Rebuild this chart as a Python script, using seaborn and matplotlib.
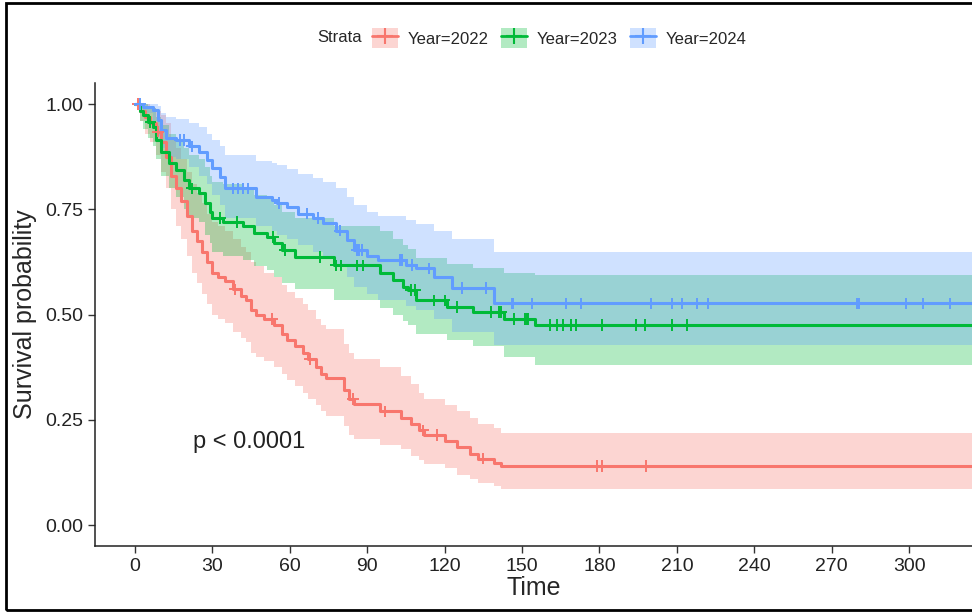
import numpy as np
import pandas as pd
import matplotlib
matplotlib.use("Agg")
import matplotlib.pyplot as plt
import seaborn as sns
from matplotlib.patches import Patch, Rectangle
from matplotlib.lines import Line2D

# ---- data (Kaplan-Meier steps + 95% band) ----
strata = ["Year=2022", "Year=2023", "Year=2024"]
colors = ["#F8766D", "#00BA38", "#619CFF"]
END_TIME = 330

# Year=2022
t_2022 = [0, 2, 4, 6, 8, 10, 12, 14, 16, 18, 20, 22, 24, 26, 28, 30, 32, 35, 38, 41,
          43, 45, 47, 50, 54, 57, 59, 62, 65, 67, 70, 72, 74, 81, 83, 85, 95, 103, 107,
          110, 112, 120, 125, 130, 133, 139, 142]
s_2022 = [1.000, 0.985, 0.970, 0.955, 0.935, 0.910, 0.875, 0.830, 0.800, 0.770, 0.735,
          0.700, 0.675, 0.650, 0.625, 0.600, 0.590, 0.580, 0.560, 0.545, 0.535, 0.510,
          0.500, 0.490, 0.475, 0.455, 0.440, 0.425, 0.410, 0.395, 0.375, 0.360, 0.350,
          0.320, 0.300, 0.287, 0.270, 0.255, 0.240, 0.225, 0.214, 0.200, 0.185, 0.170,
          0.158, 0.147, 0.140]
lo_2022 = [1.00, 0.96, 0.93, 0.91, 0.88, 0.84, 0.80, 0.75, 0.71, 0.68, 0.64, 0.60, 0.575,
           0.55, 0.525, 0.50, 0.49, 0.48, 0.46, 0.445, 0.435, 0.41, 0.40, 0.39, 0.375,
           0.36, 0.345, 0.33, 0.315, 0.30, 0.285, 0.27, 0.26, 0.235, 0.215, 0.205, 0.19,
           0.18, 0.165, 0.155, 0.145, 0.135, 0.12, 0.11, 0.10, 0.092, 0.085]
hi_2022 = [1.00, 1.00, 1.00, 0.99, 0.985, 0.975, 0.955, 0.92, 0.895, 0.87, 0.84, 0.81,
           0.79, 0.765, 0.74, 0.72, 0.71, 0.70, 0.68, 0.66, 0.65, 0.625, 0.615, 0.60,
           0.59, 0.57, 0.555, 0.54, 0.525, 0.51, 0.49, 0.475, 0.465, 0.43, 0.41, 0.395,
           0.375, 0.355, 0.335, 0.315, 0.30, 0.285, 0.27, 0.255, 0.24, 0.23, 0.22]
cens_2022 = [1, 9, 38.8, 53, 67.8, 84.6, 96.9, 111.8, 116.9, 135, 179, 181, 198]

# Year=2023
t_2023 = [0, 2, 3, 5, 7, 8, 10, 13, 16, 19, 21, 25, 27, 29, 30, 34, 42, 46, 51, 54, 57,
          62, 77, 95, 100, 104, 106, 109, 121, 131, 143, 155]
s_2023 = [1.000, 0.985, 0.974, 0.958, 0.945, 0.915, 0.886, 0.860, 0.843, 0.820, 0.800,
          0.790, 0.765, 0.745, 0.730, 0.720, 0.710, 0.695, 0.685, 0.670, 0.653, 0.637,
          0.617, 0.600, 0.582, 0.565, 0.558, 0.534, 0.518, 0.506, 0.490, 0.475]
lo_2023 = [1.00, 0.96, 0.94, 0.92, 0.90, 0.87, 0.83, 0.80, 0.78, 0.75, 0.73, 0.72, 0.69,
           0.67, 0.65, 0.64, 0.63, 0.615, 0.605, 0.59, 0.575, 0.56, 0.535, 0.515, 0.50,
           0.485, 0.475, 0.455, 0.44, 0.425, 0.40, 0.38]
hi_2023 = [1.00, 1.00, 1.00, 0.995, 0.99, 0.97, 0.95, 0.93, 0.915, 0.895, 0.88, 0.87,
           0.85, 0.83, 0.815, 0.81, 0.80, 0.785, 0.775, 0.76, 0.745, 0.73, 0.71, 0.70,
           0.68, 0.665, 0.655, 0.635, 0.62, 0.61, 0.60, 0.594]
cens_2023 = [6, 22, 33, 39.5, 53.5, 58, 71.7, 78, 80, 86, 88.5, 107, 108.5, 116, 120, 125,
             138, 141, 142, 147, 151, 152, 152.5, 161, 163.5, 166, 169, 171, 181, 194,
             197.7, 208, 214]

# Year=2024
t_2024 = [0, 3, 7, 9, 10, 12, 16, 21, 25, 28, 30, 33, 35, 47, 53, 55, 59, 63, 69, 73, 78,
          82, 85, 90, 94, 105, 109, 116, 123, 139]
s_2024 = [1.000, 0.993, 0.986, 0.962, 0.938, 0.920, 0.915, 0.900, 0.886, 0.867, 0.848,
          0.827, 0.800, 0.780, 0.772, 0.765, 0.755, 0.740, 0.730, 0.717, 0.700, 0.677,
          0.653, 0.640, 0.630, 0.618, 0.610, 0.590, 0.563, 0.527]
lo_2024 = [1.00, 0.98, 0.96, 0.925, 0.895, 0.875, 0.87, 0.85, 0.83, 0.81, 0.785, 0.76,
           0.73, 0.71, 0.70, 0.69, 0.68, 0.665, 0.65, 0.635, 0.615, 0.59, 0.565, 0.55,
           0.535, 0.52, 0.51, 0.49, 0.46, 0.428]
hi_2024 = [1.00, 1.00, 1.00, 0.995, 0.98, 0.97, 0.965, 0.955, 0.945, 0.93, 0.915, 0.90,
           0.88, 0.865, 0.86, 0.855, 0.845, 0.835, 0.825, 0.815, 0.80, 0.78, 0.76, 0.745,
           0.735, 0.725, 0.715, 0.70, 0.68, 0.648]
cens_2024 = [2, 17.5, 19, 22, 38, 40, 42, 44, 56, 66.7, 71, 79.5, 86, 87, 88, 102.7, 103.5,
             107.4, 114, 126.7, 136, 146, 146.5, 154, 167, 173, 200, 208, 212, 218, 222,
             280, 280.6, 299, 305.5, 316]

x_ticks = [0, 30, 60, 90, 120, 150, 180, 210, 240, 270, 300]
y_ticks = [0.0, 0.25, 0.5, 0.75, 1.0]

curves = [
    (t_2022, s_2022, lo_2022, hi_2022, cens_2022),
    (t_2023, s_2023, lo_2023, hi_2023, cens_2023),
    (t_2024, s_2024, lo_2024, hi_2024, cens_2024),
]

# ---- tidy frames ----
steps, marks = [], []
for name, (t, s, lo, hi, c) in zip(strata, curves):
    d = pd.DataFrame({"time": t + [END_TIME], "surv": s + [s[-1]],
                      "lower": lo + [lo[-1]], "upper": hi + [hi[-1]]})
    d["strata"] = name
    steps.append(d)
    idx = np.searchsorted(np.array(t), np.array(c), side="right") - 1
    marks.append(pd.DataFrame({"time": c, "surv": np.array(s)[idx], "strata": name}))
steps = pd.concat(steps, ignore_index=True)
marks = pd.concat(marks, ignore_index=True)

sns.set_theme(style="ticks")
plt.rcParams["font.family"] = ["Liberation Sans", "DejaVu Sans"]

fig = plt.figure(figsize=(9.72, 6.13), dpi=100)
ax = fig.add_axes([0.0977, 0.109, 0.9023, 0.7553])

pal = dict(zip(strata, colors))
for name in strata:
    d = steps[steps["strata"] == name]
    ax.fill_between(d["time"], d["lower"], d["upper"], step="post",
                    color=pal[name], alpha=0.3, linewidth=0)

sns.lineplot(data=steps, x="time", y="surv", hue="strata", palette=pal,
             drawstyle="steps-post", linewidth=2.2, estimator=None, sort=False,
             legend=False, ax=ax)
sns.scatterplot(data=marks, x="time", y="surv", hue="strata", palette=pal,
                marker="+", s=70, linewidth=1.4, legend=False, ax=ax, zorder=3)

ax.set_xlim(-15.5, 324.4)
ax.set_ylim(-0.05, 1.05)
ax.set_xticks(x_ticks)
ax.set_yticks(y_ticks)
ax.set_yticklabels([f"{v:.2f}" for v in y_ticks])
ax.tick_params(labelsize=14, length=5, width=1, color="#333333", labelcolor="#222222")
ax.set_xlabel("Time", fontsize=18, labelpad=1)
ax.set_ylabel("Survival probability", fontsize=18, labelpad=6)
for sp in ["top", "right"]:
    ax.spines[sp].set_visible(False)
for sp in ["left", "bottom"]:
    ax.spines[sp].set_color("#222222")
    ax.spines[sp].set_linewidth(1.1)

ax.text(22.5, 0.197, "p < 0.0001", fontsize=17, va="center", ha="left", color="#222222")

# legend on top
handles = [(Patch(facecolor=c, alpha=0.3, edgecolor="none"),
            Line2D([], [], color=c, lw=2, marker="+", markersize=11, markeredgewidth=1.5))
           for c in colors]
fig.text(317 / 972, 1 - 38 / 613, "Strata", fontsize=12, va="center", ha="left")
fig.legend(handles, strata, loc="center left", bbox_to_anchor=(372 / 972, 1 - 38 / 613),
           ncol=3, frameon=False, fontsize=12, borderpad=0, borderaxespad=0,
           handlelength=1.56, handleheight=1.38, handletextpad=0.6, columnspacing=0.72)

# outer frame of the picture
fig.patches.append(Rectangle((0.006, 0.005), 1.2, 0.99, transform=fig.transFigure,
                             fill=False, edgecolor="black", linewidth=2))

fig.savefig("out.png", dpi=100)
